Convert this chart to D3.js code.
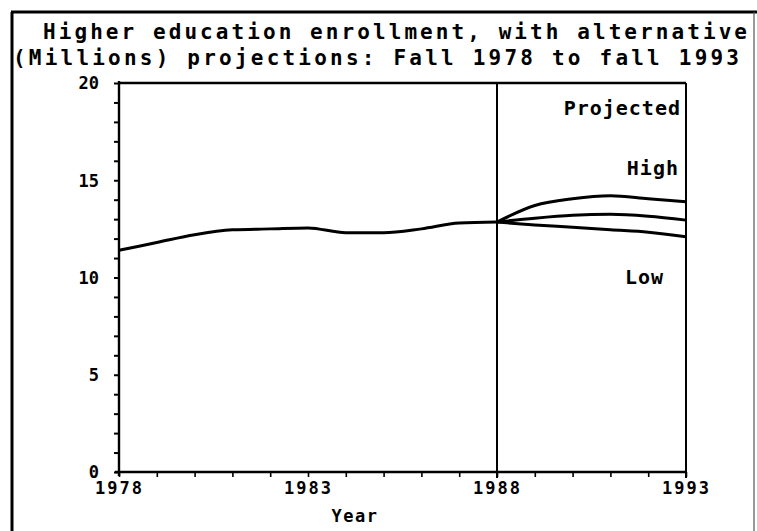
<!DOCTYPE html>
<html>
<head>
<meta charset="utf-8">
<script src="https://cdn.jsdelivr.net/npm/d3@7"></script>
<style>
  body { margin: 0; background: #fff; }
  text { font-family: "DejaVu Sans Mono", "Liberation Mono", monospace; font-weight: bold; fill: #000; }
</style>
</head>
<body>
<script>
// historical enrollment, millions
const years = [1978, 1979, 1980, 1981, 1982, 1983, 1984, 1985, 1986, 1987, 1988];
const enrollment = [11.4, 11.8, 12.2, 12.45, 12.5, 12.55, 12.3, 12.3, 12.5, 12.8, 12.85];

// projections
const projYears = [1988, 1989, 1990, 1991, 1992, 1993];
const high = [12.85, 13.7, 14.05, 14.2, 14.05, 13.9];
const middle = [12.85, 13.05, 13.2, 13.25, 13.15, 12.95];
const low = [12.85, 12.7, 12.58, 12.45, 12.33, 12.1];

const yTicks = [0, 5, 10, 15, 20];
const xTicks = [1978, 1983, 1988, 1993];

const svgWidth = 757;
const svgHeight = 531;

const svg = d3.select("body").append("svg")
    .attr("width", svgWidth)
    .attr("height", svgHeight);

// outer frame
svg.append("line").attr("x1", 12).attr("y1", 12).attr("x2", 12).attr("y2", 531)
    .style("stroke", "#000").style("stroke-width", 3);
svg.append("line").attr("x1", 11).attr("y1", 12).attr("x2", 757).attr("y2", 12)
    .style("stroke", "#000").style("stroke-width", 3);
svg.append("line").attr("x1", 754).attr("y1", 12).attr("x2", 754).attr("y2", 531)
    .style("stroke", "#555").style("stroke-width", 1.2);

// title
svg.append("text").attr("x", 43).attr("y", 39)
    .attr("textLength", 704).attr("lengthAdjust", "spacing")
    .style("font-size", "21px")
    .text("Higher education enrollment, with alternative");
svg.append("text").attr("x", 13).attr("y", 65)
    .attr("textLength", 726).attr("lengthAdjust", "spacing")
    .style("font-size", "21px")
    .text("(Millions) projections: Fall 1978 to fall 1993");

const x = d3.scaleLinear().domain([1978, 1993]).range([119, 686]);
const y = d3.scaleLinear().domain([0, 20]).range([472, 83]);

// y axis with a tick every unit, labels every 5
const yAxis = svg.append("g")
    .attr("transform", `translate(${x(1978)},0)`)
    .call(d3.axisLeft(y)
        .tickValues(d3.range(0, 21, 1))
        .tickSize(5)
        .tickPadding(15)
        .tickFormat(d => yTicks.includes(d) ? d : ""));
yAxis.select(".domain").attr("d", `M0,${y(20) - 2}V${y(0) + 4}`).style("stroke-width", 2.4);
yAxis.selectAll(".tick line").style("stroke-width", 2);
yAxis.selectAll("text").style("font-size", "17px").attr("dy", "0.35em");

// x axis with a tick every year
const xAxis = svg.append("g")
    .attr("transform", `translate(0,${y(0)})`)
    .call(d3.axisBottom(x)
        .tickValues(d3.range(1978, 1994, 1))
        .tickSize(5)
        .tickPadding(5)
        .tickFormat(d => xTicks.includes(d) ? d : ""));
xAxis.select(".domain").attr("d", `M${x(1978) - 4},0H${x(1993)}`).style("stroke-width", 2.4);
xAxis.selectAll(".tick line").style("stroke-width", 1.6);
xAxis.selectAll("text")
    .style("font-size", "17px")
    .style("letter-spacing", "2px");

// plot frame: top, right and the 1988 divider
svg.append("line").attr("x1", x(1978)).attr("x2", x(1993)).attr("y1", y(20)).attr("y2", y(20))
    .style("stroke", "#000").style("stroke-width", 2.4);
svg.append("line").attr("x1", x(1993)).attr("x2", x(1993)).attr("y1", y(20)).attr("y2", y(0) + 6)
    .style("stroke", "#000").style("stroke-width", 2);
svg.append("line").attr("x1", x(1988)).attr("x2", x(1988)).attr("y1", y(20)).attr("y2", y(0) + 6)
    .style("stroke", "#000").style("stroke-width", 2);

// series
const line = d3.line()
    .x(d => x(d[0]))
    .y(d => y(d[1]))
    .curve(d3.curveMonotoneX);

const series = [
    d3.zip(years, enrollment),
    d3.zip(projYears, high),
    d3.zip(projYears, middle),
    d3.zip(projYears, low)
];

svg.selectAll(null)
    .data(series)
    .join("path")
    .attr("d", line)
    .style("fill", "none")
    .style("stroke", "#000")
    .style("stroke-width", 3);

// labels
svg.append("text").attr("x", 681).attr("y", 115).attr("text-anchor", "end")
    .style("font-size", "20px").style("letter-spacing", "1px").text("Projected");
svg.append("text").attr("x", 679).attr("y", 175).attr("text-anchor", "end")
    .style("font-size", "20px").style("letter-spacing", "1px").text("High");
svg.append("text").attr("x", 664).attr("y", 284).attr("text-anchor", "end")
    .style("font-size", "20px").style("letter-spacing", "1px").text("Low");

svg.append("text").attr("x", 355).attr("y", 522).attr("text-anchor", "middle")
    .style("font-size", "17px").style("letter-spacing", "1.5px").text("Year");
</script>
</body>
</html>
